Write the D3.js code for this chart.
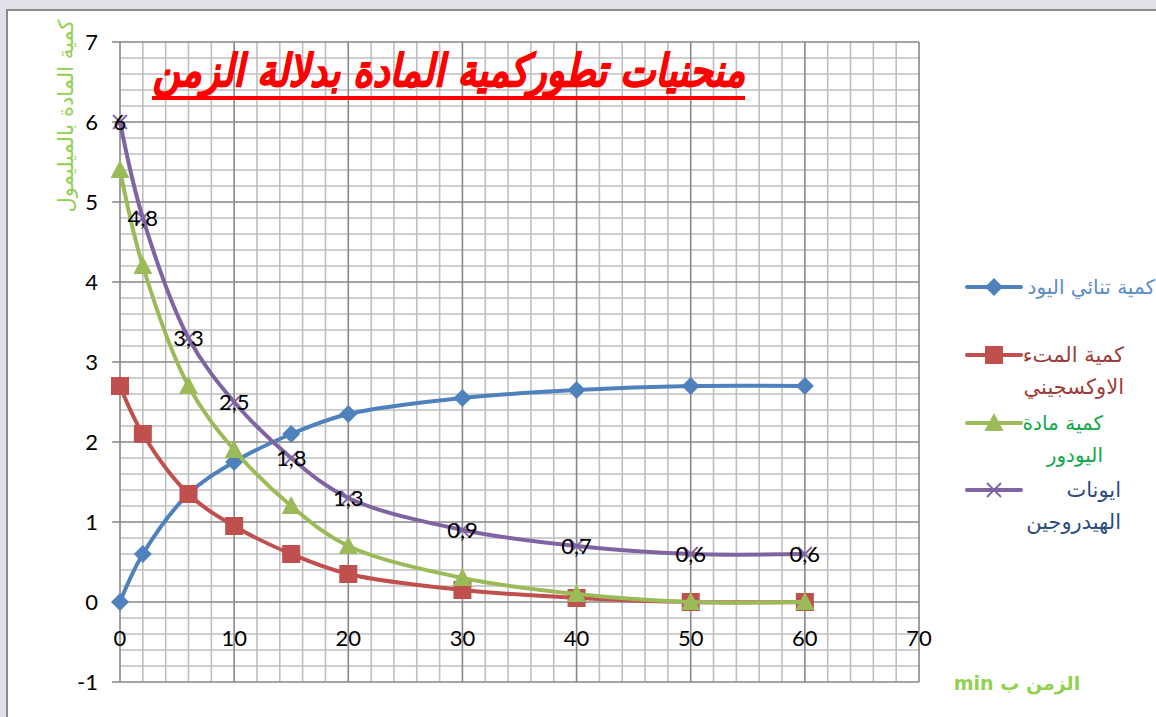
<!DOCTYPE html>
<html><head><meta charset="utf-8">
<script src="https://cdn.jsdelivr.net/npm/d3@7"></script>
<style>
html,body{margin:0;padding:0;background:#e4e0eb;overflow:hidden}
.num{font-family:Lato,"Liberation Sans",sans-serif;fill:#000}
.ar{font-family:"DejaVu Sans",sans-serif;direction:rtl;unicode-bidi:embed}
</style>
</head><body>
<svg id="chart" width="1156" height="717"></svg>
<script>
// Time in minutes and amounts of matter (mmol)
const times = [0, 2, 6, 10, 15, 20, 30, 40, 50, 60];
const iodine = [0, 0.6, 1.35, 1.75, 2.1, 2.35, 2.55, 2.65, 2.7, 2.7];
const peroxodisulfate = [2.7, 2.1, 1.35, 0.95, 0.6, 0.35, 0.15, 0.05, 0, 0];
const iodide = [5.4, 4.2, 2.7, 1.9, 1.2, 0.7, 0.3, 0.1, 0, 0];
const hydrogen = [6, 4.8, 3.3, 2.5, 1.8, 1.3, 0.9, 0.7, 0.6, 0.6];

const xTicks = [0, 10, 20, 30, 40, 50, 60, 70];
const yTicks = [-1, 0, 1, 2, 3, 4, 5, 6, 7];

const seriesNames = [
  ["كمية تنائي اليود"],
  ["كمية المتء", "الاوكسجيني"],
  ["كمية مادة", "اليودور"],
  ["ايونات", "الهيدروجين"]
];
const titleText = "منحنيات تطوركمية المادة بدلالة الزمن";
const yTitle = "كمية المادة بالميليمول";
const xTitle = "الزمن ب min";

const svg = d3.select("#chart");

// white chart frame
svg.append("rect").attr("x", 7).attr("y", 10).attr("width", 1160).attr("height", 720)
  .attr("fill", "#fff").attr("stroke", "#8a8a8a").attr("stroke-width", 2);

const x = d3.scaleLinear().domain([0, 70]).range([120, 919]);
const y = d3.scaleLinear().domain([-1, 7]).range([682, 42]);

// grid: minor every 2 min / 0.2 mmol, major every 10 min / 1 mmol
const grid = svg.append("g");
const minorX = d3.range(0, 70.001, 2).filter(v => v % 10 !== 0);
const minorY = d3.range(-1, 7.001, 0.2).map(v => +v.toFixed(1)).filter(v => Math.abs(v - Math.round(v)) > 1e-6);
grid.selectAll(".mx").data(minorX).join("line")
  .attr("x1", d => x(d)).attr("x2", d => x(d)).attr("y1", y(7)).attr("y2", y(-1))
  .attr("stroke", "#bfbfbf").attr("stroke-width", 1.6);
grid.selectAll(".my").data(minorY).join("line")
  .attr("x1", x(0)).attr("x2", x(70)).attr("y1", d => y(d)).attr("y2", d => y(d))
  .attr("stroke", "#bfbfbf").attr("stroke-width", 1.6);
grid.selectAll(".Mx").data(xTicks).join("line")
  .attr("x1", d => x(d)).attr("x2", d => x(d)).attr("y1", y(7)).attr("y2", y(-1))
  .attr("stroke", "#878787").attr("stroke-width", 1.6);
grid.selectAll(".My").data(yTicks).join("line")
  .attr("x1", x(0) - 8).attr("x2", x(70)).attr("y1", d => y(d)).attr("y2", d => y(d))
  .attr("stroke", "#878787").attr("stroke-width", 1.6);

// axis tick labels
svg.append("g").selectAll("text").data(yTicks).join("text").attr("class", "num")
  .attr("x", 98).attr("y", d => y(d)).attr("dy", "0.35em").attr("text-anchor", "end")
  .attr("font-size", 22).text(d => d);
svg.append("g").selectAll("text").data(xTicks).join("text").attr("class", "num")
  .attr("x", d => x(d)).attr("y", y(0) + 36).attr("dy", "0.35em").attr("text-anchor", "middle")
  .attr("font-size", 22).text(d => d);

// series
const series = [
  {values: iodine, color: "#4f81bd", marker: "diamond"},
  {values: peroxodisulfate, color: "#c0504d", marker: "square"},
  {values: iodide, color: "#9bbb59", marker: "triangle"},
  {values: hydrogen, color: "#8064a2", marker: "cross"}
];
const line = d3.line().x(d => x(d[0])).y(d => y(d[1])).curve(d3.curveCatmullRom.alpha(0.5));

function drawMarker(g, type, cx, cy, color) {
  if (type === "diamond") {
    g.append("path").attr("d", `M${cx},${cy - 9}L${cx + 9},${cy}L${cx},${cy + 9}L${cx - 9},${cy}Z`).attr("fill", color);
  } else if (type === "square") {
    g.append("rect").attr("x", cx - 9).attr("y", cy - 9).attr("width", 18).attr("height", 18).attr("fill", color);
  } else if (type === "triangle") {
    g.append("path").attr("d", `M${cx},${cy - 10}L${cx + 9.5},${cy + 8}L${cx - 9.5},${cy + 8}Z`).attr("fill", color);
  } else {
    g.append("path").attr("d", `M${cx - 7},${cy - 7}L${cx + 7},${cy + 7}M${cx - 7},${cy + 7}L${cx + 7},${cy - 7}`)
      .attr("stroke", color).attr("stroke-width", 1.8).attr("fill", "none");
  }
}

series.forEach(s => {
  const pts = times.map((t, i) => [t, s.values[i]]);
  const g = svg.append("g");
  g.append("path").datum(pts).attr("d", line).attr("fill", "none")
    .attr("stroke", s.color).attr("stroke-width", 4).attr("stroke-linejoin", "round");
  pts.forEach(p => drawMarker(g, s.marker, x(p[0]), y(p[1]), s.color));
});

// value labels on the hydrogen ion curve
svg.append("g").selectAll("text").data(times).join("text").attr("class", "num")
  .attr("x", d => x(d)).attr("y", (d, i) => y(hydrogen[i])).attr("dy", "0.35em")
  .attr("text-anchor", "middle").attr("font-size", 22)
  .text((d, i) => String(hydrogen[i]).replace(".", ","));

// title with underline (slightly stretched vertically)
svg.append("g").attr("transform", "translate(745,86) scale(1,1.18)")
  .append("text").attr("class", "ar")
  .attr("x", 0).attr("y", 0).attr("text-anchor", "start")
  .attr("font-size", 37.5).attr("font-weight", "bold").attr("font-style", "italic")
  .attr("fill", "#ff0000").attr("stroke", "#ff0000").attr("stroke-width", 1)
  .text(titleText);
svg.append("rect").attr("x", 152).attr("y", 96).attr("width", 593).attr("height", 4).attr("fill", "#ff0000");

// axis titles
svg.append("text").attr("class", "ar")
  .attr("transform", "translate(73,116) rotate(-90)")
  .attr("text-anchor", "middle").attr("font-size", 21).attr("fill", "#92d050").text(yTitle);
svg.append("text").attr("class", "ar")
  .attr("x", 1017).attr("y", 683).attr("dy", "0.35em").attr("text-anchor", "middle")
  .attr("font-size", 19).attr("font-weight", "bold").attr("fill", "#92d050").text(xTitle);

// legend
const legendY = [287, 355, 423, 490];
const legendRight = [1155, 1124, 1103, 1121];
const legendSize = [20, 21, 20, 21];
const legendText = ["#5b8cc8", "#9c3c39", "#12a84a", "#2d4d7e"];
series.forEach((s, i) => {
  const g = svg.append("g");
  const cy = legendY[i];
  g.append("line").attr("x1", 967).attr("x2", 1021).attr("y1", cy).attr("y2", cy)
    .attr("stroke", s.color).attr("stroke-width", 4).attr("stroke-linecap", "round");
  drawMarker(g, s.marker, 994, cy, s.color);
  seriesNames[i].forEach((t, j) => {
    g.append("text").attr("class", "ar").attr("x", legendRight[i]).attr("y", cy + j * 32)
      .attr("dy", "0.35em").attr("text-anchor", "start").attr("font-size", legendSize[i])
      .attr("fill", legendText[i]).text(t);
  });
});
</script>
</body></html>
